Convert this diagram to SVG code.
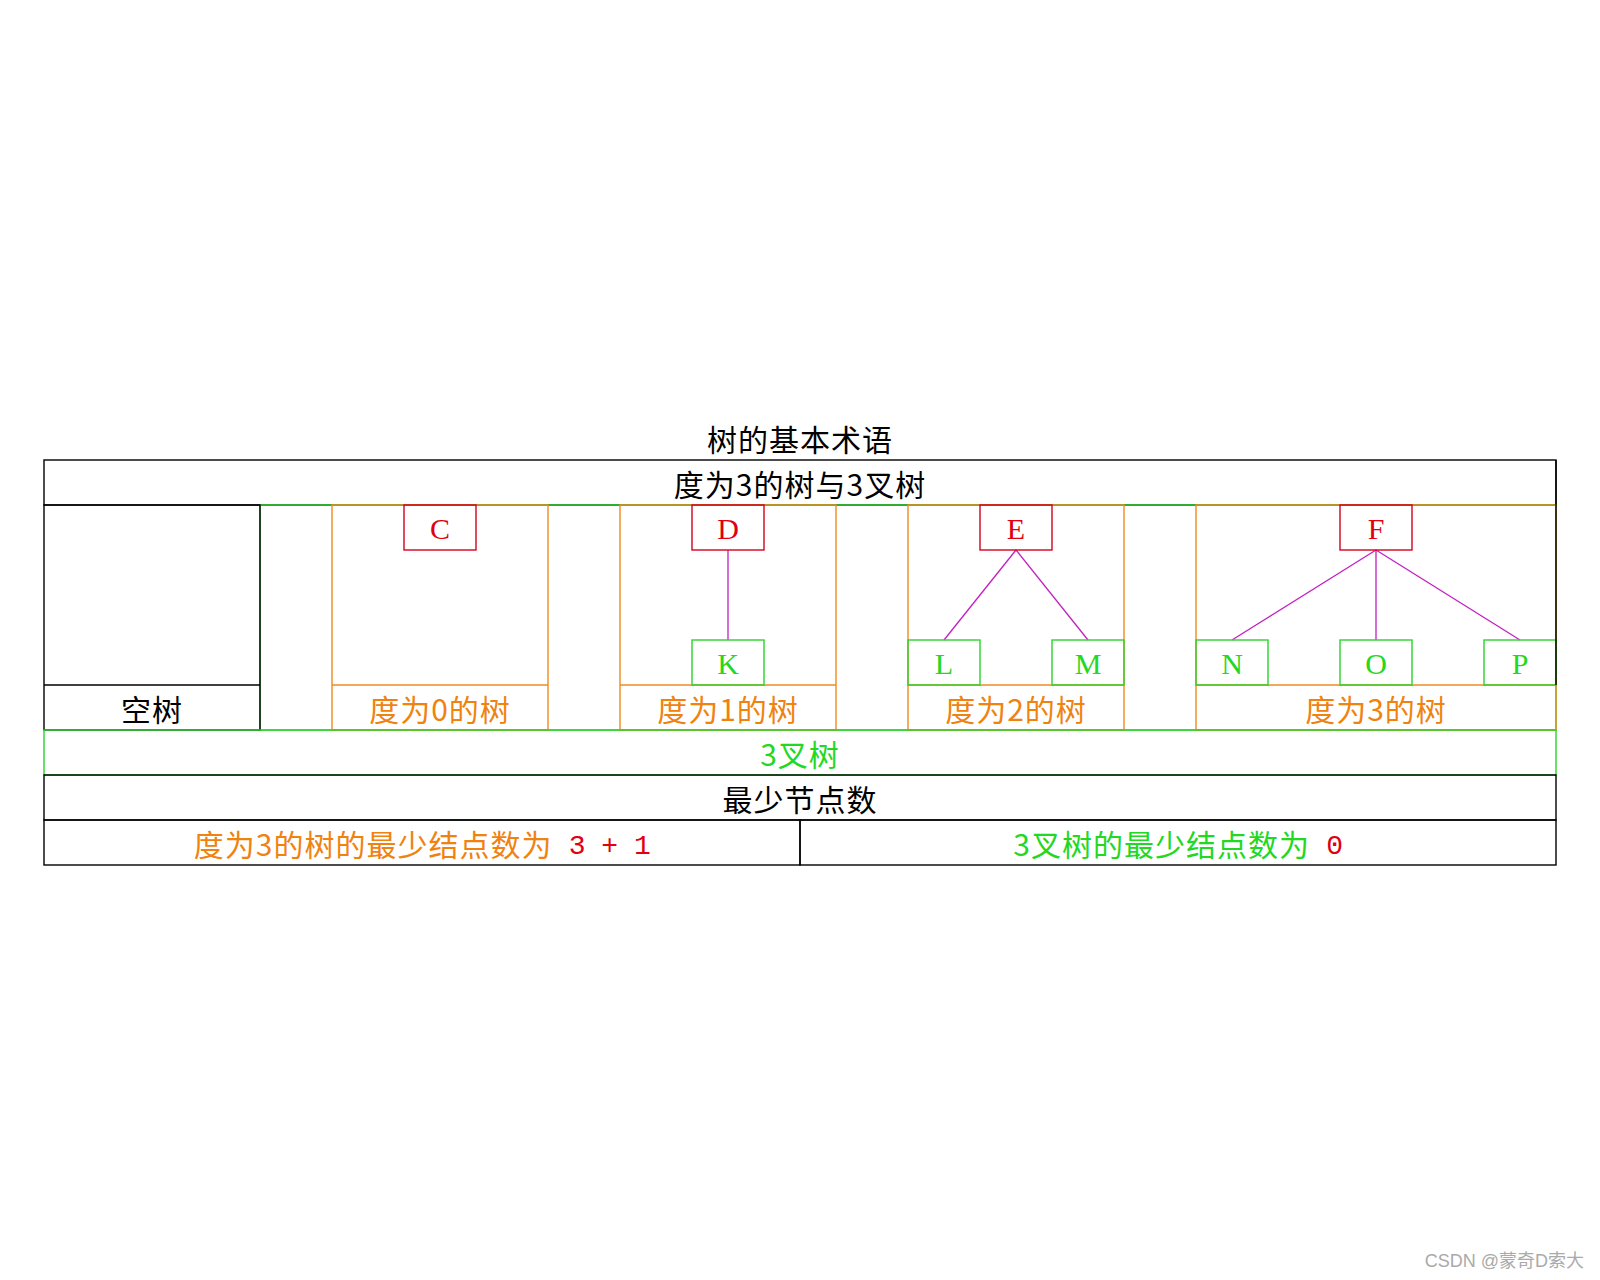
<svg xmlns="http://www.w3.org/2000/svg" width="1600" height="1280" viewBox="0 0 1600 1280">
<style>
.t{font-family:"Noto Sans CJK SC","Liberation Sans",sans-serif;font-size:30px;letter-spacing:1px;text-anchor:middle;dominant-baseline:central}
.m{font-family:"Liberation Mono",monospace;font-size:28px;letter-spacing:-0.5px}
.n{font-family:"Liberation Serif","Noto Sans CJK SC",serif;font-size:30px;text-anchor:middle;dominant-baseline:central}
.blk{fill:none;stroke:#000;stroke-width:1.4}
.grn{fill:none;stroke:#2ad52a;stroke-width:1.4}
.org{fill:none;stroke:#f08a1e;stroke-width:1.4}
.red{fill:none;stroke:#d4001e;stroke-width:1.4}
.cg{fill:#22d822}
.co{fill:#f0820f}
.cr{fill:#e00010}
.edge{stroke:#c020c0;stroke-width:1.3;fill:none}
</style>
<rect width="1600" height="1280" fill="#fff"/>
<g id="title"><text class="t" x="800" y="438" font-size="30" letter-spacing="2">树的基本术语</text></g>
<g id="header"><rect class="blk" x="44" y="460" width="1512" height="45"/><text class="t" x="800" y="482.5">度为3的树与3叉树</text></g>
<g id="ternary-area"><rect class="grn" x="260" y="505" width="1296" height="225"/></g>
<g id="empty-tree"><rect class="blk" x="44" y="505" width="216" height="225"/><line class="blk" x1="44" y1="685" x2="260" y2="685"/><text class="t" x="152" y="707.5" fill="#000">空树</text></g>
<g id="deg0"><rect class="org" x="332" y="505" width="216" height="225"/><line class="org" x1="332" y1="685" x2="548" y2="685"/><text class="t co" x="440" y="707.5">度为0的树</text></g>
<g id="deg1"><rect class="org" x="620" y="505" width="216" height="225"/><line class="org" x1="620" y1="685" x2="836" y2="685"/><text class="t co" x="728" y="707.5">度为1的树</text></g>
<g id="deg2"><rect class="org" x="908" y="505" width="216" height="225"/><line class="org" x1="908" y1="685" x2="1124" y2="685"/><text class="t co" x="1016" y="707.5">度为2的树</text></g>
<g id="deg3"><rect class="org" x="1196" y="505" width="360" height="225"/><line class="org" x1="1196" y1="685" x2="1556" y2="685"/><text class="t co" x="1376" y="707.5">度为3的树</text></g>
<g id="connectors">
<line class="edge" x1="728" y1="550" x2="728" y2="640"/>
<line class="edge" x1="1016" y1="550" x2="944" y2="640"/>
<line class="edge" x1="1016" y1="550" x2="1088" y2="640"/>
<line class="edge" x1="1376" y1="550" x2="1232" y2="640"/>
<line class="edge" x1="1376" y1="550" x2="1376" y2="640"/>
<line class="edge" x1="1376" y1="550" x2="1520" y2="640"/>
</g>
<g id="node-C"><rect class="red" x="404" y="505" width="72" height="45"/><text class="n cr" x="440" y="528">C</text></g>
<g id="node-D"><rect class="red" x="692" y="505" width="72" height="45"/><text class="n cr" x="728" y="528">D</text></g>
<g id="node-K"><rect class="grn" x="692" y="640" width="72" height="45"/><text class="n cg" x="728" y="663">K</text></g>
<g id="node-E"><rect class="red" x="980" y="505" width="72" height="45"/><text class="n cr" x="1016" y="528">E</text></g>
<g id="node-L"><rect class="grn" x="908" y="640" width="72" height="45"/><text class="n cg" x="944" y="663">L</text></g>
<g id="node-M"><rect class="grn" x="1052" y="640" width="72" height="45"/><text class="n cg" x="1088" y="663">M</text></g>
<g id="node-F"><rect class="red" x="1340" y="505" width="72" height="45"/><text class="n cr" x="1376" y="528">F</text></g>
<g id="node-N"><rect class="grn" x="1196" y="640" width="72" height="45"/><text class="n cg" x="1232" y="663">N</text></g>
<g id="node-O"><rect class="grn" x="1340" y="640" width="72" height="45"/><text class="n cg" x="1376" y="663">O</text></g>
<g id="node-P"><rect class="grn" x="1484" y="640" width="72" height="45"/><text class="n cg" x="1520" y="663">P</text></g>
<line class="blk" x1="1556" y1="460" x2="1556" y2="685"/>
<g id="ternary-row"><rect class="grn" x="44" y="730" width="1512" height="45"/><text class="t cg" x="800" y="752.5">3叉树</text></g>
<g id="min-header"><rect class="blk" x="44" y="775" width="1512" height="45"/><text class="t" x="800" y="797.5" fill="#000">最少节点数</text></g>
<g id="min-left"><rect class="blk" x="44" y="820" width="756" height="45"/><text class="t co" x="422" y="842.5" xml:space="preserve">度为3的树的最少结点数为<tspan class="m cr" dy="3"> 3 + 1</tspan></text></g>
<g id="min-right"><rect class="blk" x="800" y="820" width="756" height="45"/><text class="t cg" x="1178" y="842.5" xml:space="preserve">3叉树的最少结点数为<tspan class="m cr" dy="3"> 0</tspan></text></g>
<text x="1584" y="1261" font-family="Liberation Sans,'Noto Sans CJK SC',sans-serif" font-size="18" fill="#aaa" text-anchor="end" dominant-baseline="central">CSDN @蒙奇D索大</text>
</svg>
